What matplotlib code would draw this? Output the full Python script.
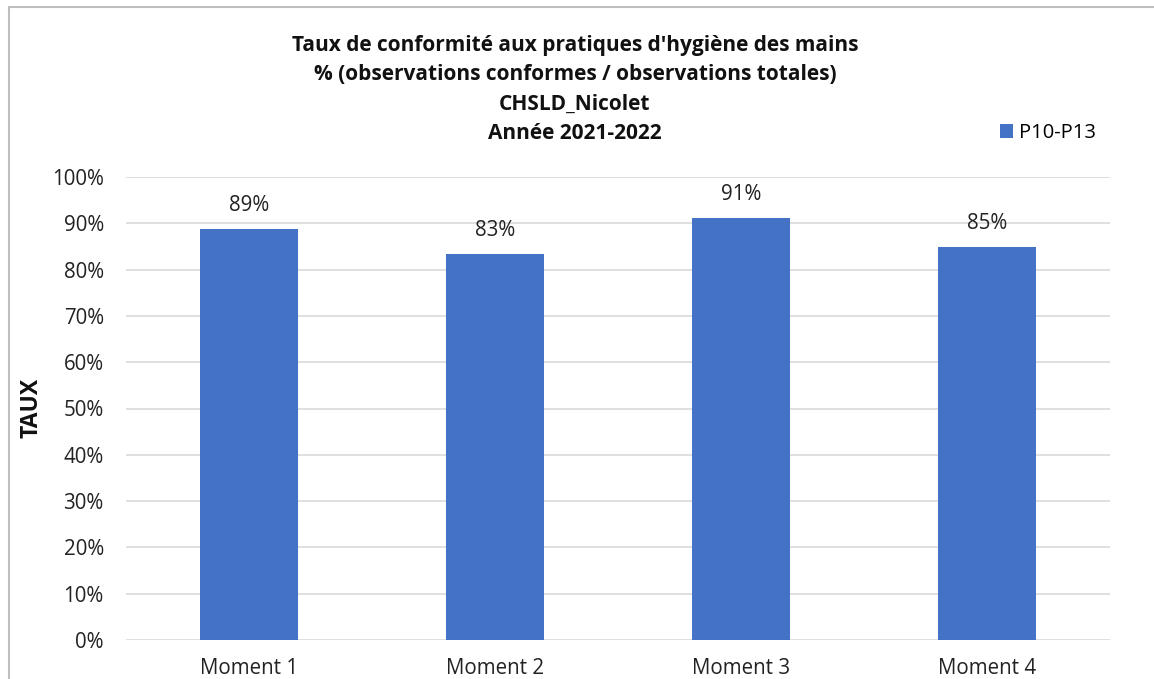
import matplotlib.pyplot as plt
from matplotlib.patches import Rectangle
from matplotlib.ticker import PercentFormatter

# données
categories = ["Moment 1", "Moment 2", "Moment 3", "Moment 4"]
taux = [0.888, 0.833, 0.911, 0.848]
etiquettes = ["89%", "83%", "91%", "85%"]
serie = "P10-P13"
titre = ("Taux de conformité aux pratiques d'hygiène des mains\n"
         "% (observations conformes / observations totales)\n"
         "CHSLD_Nicolet\n"
         "Année 2021-2022")

plt.rcParams['font.family'] = ['Open Sans', 'DejaVu Sans']
W, H = 1154, 679
fig = plt.figure(figsize=(W / 100, H / 100), dpi=100)
ax = fig.add_axes([126 / W, 39 / H, (1110 - 126) / W, (640 - 177) / H])

bleu = '#4472C4'
x = range(len(categories))
bars = ax.bar(x, taux, width=0.4, color=bleu, zorder=3, label=serie)
for b, t in zip(bars, etiquettes):
    ax.annotate(t, (b.get_x() + b.get_width() / 2, b.get_height()),
                xytext=(0, 18), textcoords='offset pixels',
                ha='center', va='baseline', fontsize=14.8, color='#222222')

ax.set_xlim(-0.5, len(categories) - 0.5)
ax.set_ylim(0, 1)
ax.set_yticks([i / 10 for i in range(11)])
ax.yaxis.set_major_formatter(PercentFormatter(1.0, decimals=0))
ax.set_xticks(list(x))
ax.set_xticklabels(categories)
ax.tick_params(axis='both', length=0, labelsize=14.8, colors='#222222')
ax.tick_params(axis='y', pad=16)
ax.tick_params(axis='x', pad=13)
ax.grid(axis='y', color='#d9d9d9', linewidth=1.2, zorder=0)
for s in ax.spines.values():
    s.set_visible(False)

# titre de l'axe vertical
fig.text(31 / W, 1 - 408 / H, "TAUX", rotation=90, ha='center', va='center',
         fontsize=16.5, fontweight='bold', color='#111111')

fig.text(575 / W, 1 - 35 / H, titre, ha='center', va='top', fontsize=15,
         fontweight='bold', color='#111111', linespacing=1.52)

leg = ax.legend(loc='center left', bbox_to_anchor=(1000 / W, 1 - 133 / H),
                bbox_transform=fig.transFigure, frameon=False, fontsize=14.5,
                handlelength=0.65, handleheight=0.65, handletextpad=0.3,
                borderpad=0, borderaxespad=0)

# cadre du graphique
fig.patches.append(Rectangle((8.5 / W, -0.1), 1.2, 1 - 7.5 / H + 0.1,
                             transform=fig.transFigure, fill=False,
                             edgecolor='#bfbfbf', linewidth=1.5))

fig.savefig('out.png', dpi=100)
